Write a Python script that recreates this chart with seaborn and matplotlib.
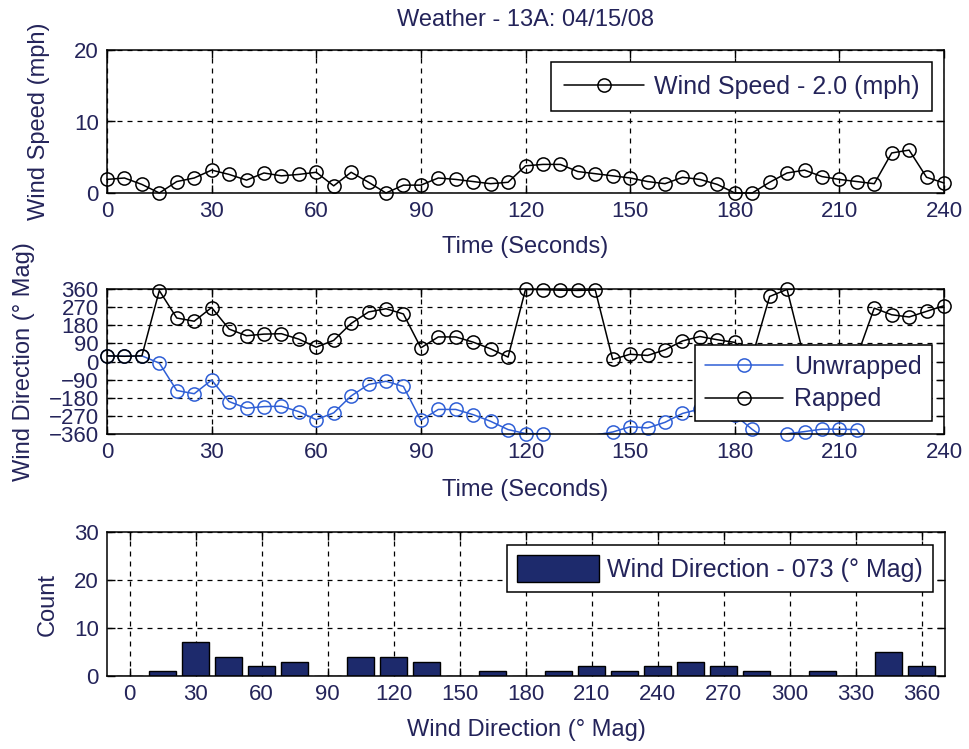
import numpy as np
import pandas as pd
import matplotlib
matplotlib.use("Agg")
import matplotlib.pyplot as plt
import seaborn as sns
from matplotlib.lines import Line2D
from matplotlib.patches import Patch

# ---------------- data ----------------
time_s = list(range(0, 241, 5))
wind_speed = [1.9, 2.1, 1.2, 0.0, 1.6, 2.1, 3.2, 2.6, 1.8, 2.8, 2.4, 2.6, 2.9,
              1.0, 2.9, 1.5, 0.0, 1.1, 1.1, 2.1, 1.9, 1.6, 1.3, 1.5, 3.8, 4.0,
              4.0, 3.0, 2.7, 2.4, 2.1, 1.6, 1.3, 2.2, 1.9, 1.2, 0.0, 0.0, 1.5,
              2.8, 3.2, 2.3, 1.9, 1.6, 1.3, 5.6, 6.0, 2.2, 1.4]
dir_rapped = [28, 26, 28, 352, 216, 200, 268, 161, 128, 136, 138, 111, 71,
              105, 189, 246, 262, 236, 68, 122, 122, 96, 63, 22, 358, 357,
              354, 353, 355, 10, 36, 30, 58, 102, 124, 108, 95, 23, 323,
              358, 12, 24, 24, 22, 265, 232, 221, 249, 277]
dir_unwrapped = [28, 26, 28, -8, -144, -160, -92, -199, -232, -224, -222, -249,
                 -289, -255, -171, -114, -98, -124, -292, -238, -238, -264,
                 -297, -338, -358, -359, -366, -367, -365, -350, -324, -330,
                 -302, -258, -236, -252, -265, -337, -397, -359, -348, -336,
                 -336, -338, -455, -488, -499, -471, -443]
hist_centers = list(range(0, 361, 15))
hist_counts = [0, 1, 7, 4, 2, 3, 0, 4, 4, 3, 0, 1, 0, 1, 2, 1, 2, 3, 2, 1, 0, 1, 0, 5, 2]

title_text = "Weather - 13A: 04/15/08"
speed_label = "Wind Speed - 2.0 (mph)"
hist_label = "Wind Direction - 073 (° Mag)"

# ---------------- style ----------------
sns.set_theme(style="white")
plt.rcParams["font.family"] = ["Liberation Sans", "DejaVu Sans"]
TXT = "#24245a"
BLUE = "#2f5fd6"
NAVY = "#1d2a6c"
FS_TICK = 16
FS_LAB = 17
FS_LEG = 18

fig = plt.figure(figsize=(9.69, 7.49), dpi=100)
W, H = 969, 749


def add_ax(left, top, right, bottom):
    return fig.add_axes([left / W, 1 - bottom / H, (right - left) / W, (bottom - top) / H])


ax1 = add_ax(107, 50, 944, 193)
ax2 = add_ax(107, 289, 944, 434)
ax3 = add_ax(107, 532, 945, 676)


def style(ax):
    ax.set_facecolor("white")
    for s in ax.spines.values():
        s.set_visible(True)
        s.set_color("black")
        s.set_linewidth(1.1)
    ax.tick_params(direction="in", length=6, width=1, top=True, right=True,
                   bottom=True, left=True, colors="black",
                   labelcolor=TXT, labelsize=FS_TICK, pad=6)
    ax.grid(True, color="black", linestyle=(0, (4, 4)), linewidth=0.9)
    ax.set_axisbelow(True)


def finish_legend(leg):
    leg.get_frame().set_linewidth(1.1)
    for t in leg.get_texts():
        t.set_color(TXT)


leg_kw = dict(fontsize=FS_LEG, frameon=True, fancybox=False, edgecolor="black",
              framealpha=1, borderaxespad=0.5)
mk = dict(marker="o", markersize=9.5, markerfacecolor="none", markeredgewidth=1.1)

# ---------------- top: wind speed ----------------
df_ws = pd.DataFrame({"t": time_s, "v": wind_speed})
sns.lineplot(data=df_ws, x="t", y="v", ax=ax1, color="black", linewidth=1.1,
             markeredgecolor="black", clip_on=False, label=speed_label, **mk)
style(ax1)
ax1.set_xlim(0, 240)
ax1.set_ylim(0, 20)
ax1.set_xticks(range(0, 241, 30))
ax1.set_yticks([0, 10, 20])
ax1.set_xlabel("Time (Seconds)", fontsize=FS_LAB, color=TXT)
ax1.set_ylabel("Wind Speed (mph)", fontsize=FS_LAB, color=TXT)
ax1.xaxis.set_label_coords(0.5, -0.30)
ax1.yaxis.set_label_coords(-0.068, 0.5)
ax1.set_title(title_text, fontsize=FS_LAB, color=TXT, pad=17)
leg1 = ax1.legend(loc="upper right", handlelength=3.2, handletextpad=0.4,
                  borderpad=0.5, **leg_kw)
finish_legend(leg1)

# ---------------- middle: wind direction ----------------
df_dir = pd.DataFrame({"t": time_s, "rapped": dir_rapped, "unwrapped": dir_unwrapped})
sns.lineplot(data=df_dir, x="t", y="unwrapped", ax=ax2, color=BLUE, linewidth=1.1)
vis_u = df_dir[(df_dir["unwrapped"] >= -360) & (df_dir["unwrapped"] <= 360)]
sns.lineplot(data=vis_u, x="t", y="unwrapped", ax=ax2, color=BLUE, linestyle="",
             markeredgecolor=BLUE, clip_on=False, **mk)
sns.lineplot(data=df_dir, x="t", y="rapped", ax=ax2, color="black", linewidth=1.1)
sns.lineplot(data=df_dir, x="t", y="rapped", ax=ax2, color="black", linestyle="",
             markeredgecolor="black", clip_on=False, **mk)
style(ax2)
ax2.set_xlim(0, 240)
ax2.set_ylim(-360, 360)
ax2.set_xticks(range(0, 241, 30))
ax2.set_yticks(range(-360, 361, 90))
ax2.set_xlabel("Time (Seconds)", fontsize=FS_LAB, color=TXT)
ax2.set_ylabel("Wind Direction (° Mag)", fontsize=FS_LAB, color=TXT)
ax2.xaxis.set_label_coords(0.5, -0.31)
ax2.yaxis.set_label_coords(-0.086, 0.5)
h_u = Line2D([], [], color=BLUE, linewidth=1.1, markeredgecolor=BLUE, **mk)
h_r = Line2D([], [], color="black", linewidth=1.1, markeredgecolor="black", **mk)
leg2 = ax2.legend([h_u, h_r], ["Unwrapped", "Rapped"], loc="lower right",
                  handlelength=3.1, handletextpad=0.45, borderpad=0.4,
                  labelspacing=0.35, **leg_kw)
finish_legend(leg2)

# ---------------- bottom: histogram ----------------
df_h = pd.DataFrame({"c": hist_centers, "n": hist_counts})
sns.barplot(data=df_h, x="c", y="n", ax=ax3, native_scale=True, width=0.82,
            color=NAVY, saturation=1, edgecolor="black", linewidth=1)
style(ax3)
ax3.set_xlim(-10.3, 370.6)
ax3.set_ylim(0, 30)
ax3.set_xticks(range(0, 361, 30))
ax3.set_yticks([0, 10, 20, 30])
ax3.set_xlabel("Wind Direction (° Mag)", fontsize=FS_LAB, color=TXT)
ax3.set_ylabel("Count", fontsize=FS_LAB, color=TXT)
ax3.xaxis.set_label_coords(0.5, -0.30)
ax3.yaxis.set_label_coords(-0.057, 0.5)
h_b = Patch(facecolor=NAVY, edgecolor="black", linewidth=1)
leg3 = ax3.legend([h_b], [hist_label], loc="upper right", handlelength=3.3,
                  handleheight=1.3, handletextpad=0.3, borderpad=0.4, **leg_kw)
finish_legend(leg3)

fig.savefig("out.png", dpi=100, facecolor="white")
